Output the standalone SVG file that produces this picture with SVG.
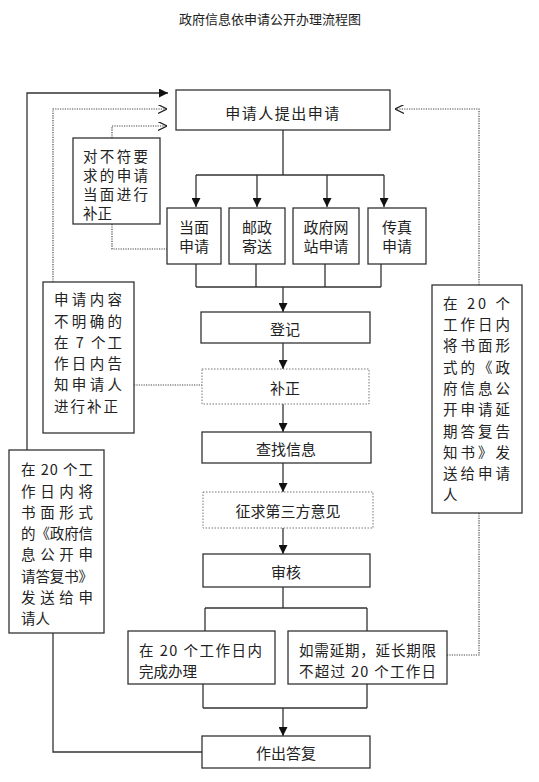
<svg xmlns="http://www.w3.org/2000/svg" width="539" height="782" viewBox="0 0 539 782">
<style>
.bx{fill:#fff;stroke:#333;stroke-width:1.3}
.dbx{fill:#fff;stroke:#777;stroke-width:1;stroke-dasharray:1.5 1.5}
.ln{fill:none;stroke:#333;stroke-width:1.3}
.dl{fill:none;stroke:#444;stroke-width:1.2;stroke-dasharray:1.2 1.2}
text{font-family:"Noto Sans CJK SC","Liberation Sans",sans-serif;fill:#222;dominant-baseline:central}
.c{text-anchor:middle;font-size:15px}
.t{font-size:14.5px}
.title{font-size:13px;text-anchor:middle}
</style>
<defs>
<marker id="ar" viewBox="0 0 10 10" refX="10" refY="5" markerWidth="9" markerHeight="9" markerUnits="userSpaceOnUse" orient="auto">
<path d="M0,0 L10,5 L0,10 z" fill="#111"/>
</marker>
<marker id="ch" viewBox="0 0 10 10" refX="10" refY="5" markerWidth="9" markerHeight="9" markerUnits="userSpaceOnUse" orient="auto">
<path d="M0,0 L10,5 L0,10" fill="none" stroke="#222" stroke-width="1.3"/>
</marker>
</defs>
<text class="title" x="270" y="18">政府信息依申请公开办理流程图</text>

<g id="connectors">
<path class="ln" d="M283,130 V175 M196,175 H384"/>
<path class="ln" d="M196,175 V207" marker-end="url(#ar)"/>
<path class="ln" d="M257,175 V207" marker-end="url(#ar)"/>
<path class="ln" d="M327,175 V207" marker-end="url(#ar)"/>
<path class="ln" d="M384,175 V207" marker-end="url(#ar)"/>
<path class="ln" d="M196,264 V287 M256,264 V287 M325,264 V287 M381,264 V287 M196,287 H381"/>
<path class="ln" d="M283,287 V312" marker-end="url(#ar)"/>
<path class="ln" d="M283,343 V369" marker-end="url(#ar)"/>
<path class="ln" d="M283,404 V432" marker-end="url(#ar)"/>
<path class="ln" d="M283,463 V492" marker-end="url(#ar)"/>
<path class="ln" d="M283,528 V554" marker-end="url(#ar)"/>
<path class="ln" d="M283,587 V608 M205,608 H367 M205,608 V631 M367,608 V631"/>
<path class="ln" d="M203,684 V708 M367,684 V708 M203,708 H367"/>
<path class="ln" d="M283,708 V736" marker-end="url(#ar)"/>
<path class="ln" d="M27,450 V93 H168" marker-end="url(#ar)"/>
<path class="ln" d="M53,633 V752 H202"/>
<path class="dl" d="M53,282 V109 H167" marker-end="url(#ch)"/>
<path class="dl" d="M112,138 V126 H167" marker-end="url(#ch)"/>
<path class="dl" d="M112,224 V249 H167"/>
<path class="dl" d="M134,385 H202"/>
<path class="dl" d="M479,285 V109 H395" marker-end="url(#ch)"/>
<path class="dl" d="M479,513 V655 H447"/>
</g>

<g id="n-apply">
<rect class="bx" x="176" y="90" width="214" height="40"/>
<text class="c" x="283" y="112" letter-spacing="1.5">申请人提出申请</text>
</g>
<g id="n-face-fix">
<rect class="bx" x="73" y="138" width="87" height="86"/>
<text class="t" x="83" y="155" textLength="65" lengthAdjust="spacing">对不符要</text>
<text class="t" x="83" y="174" textLength="65" lengthAdjust="spacing">求的申请</text>
<text class="t" x="83" y="193" textLength="65" lengthAdjust="spacing">当面进行</text>
<text class="t" x="83" y="212">补正</text>
</g>
<g id="n-face">
<rect class="bx" x="167" y="208" width="54" height="56"/>
<text class="c" x="194" y="226">当面</text>
<text class="c" x="194" y="245">申请</text>
</g>
<g id="n-post">
<rect class="bx" x="229" y="208" width="56" height="56"/>
<text class="c" x="257" y="226">邮政</text>
<text class="c" x="257" y="245">寄送</text>
</g>
<g id="n-web">
<rect class="bx" x="293" y="208" width="66" height="56"/>
<text class="c" x="326" y="226">政府网</text>
<text class="c" x="326" y="245">站申请</text>
</g>
<g id="n-fax">
<rect class="bx" x="368" y="208" width="58" height="56"/>
<text class="c" x="397" y="226">传真</text>
<text class="c" x="397" y="245">申请</text>
</g>
<g id="n-register">
<rect class="bx" x="201" y="312" width="169" height="31"/>
<text class="c" x="285" y="328">登记</text>
</g>
<g id="n-fix">
<rect class="dbx" x="202" y="369" width="167" height="35"/>
<text class="c" x="285" y="387">补正</text>
</g>
<g id="n-unclear">
<rect class="bx" x="43" y="282" width="91" height="151"/>
<text class="t" x="54" y="298" textLength="68" lengthAdjust="spacing">申请内容</text>
<text class="t" x="54" y="320" textLength="68" lengthAdjust="spacing">不明确的</text>
<text class="t" x="54" y="341" textLength="68" lengthAdjust="spacing">在 7 个工</text>
<text class="t" x="54" y="362" textLength="68" lengthAdjust="spacing">作日内告</text>
<text class="t" x="54" y="383" textLength="68" lengthAdjust="spacing">知申请人</text>
<text class="t" x="54" y="405" textLength="64" lengthAdjust="spacing">进行补正</text>
</g>
<g id="n-search">
<rect class="bx" x="202" y="432" width="169" height="31"/>
<text class="c" x="286" y="448">查找信息</text>
</g>
<g id="n-third">
<rect class="dbx" x="203" y="492" width="170" height="36"/>
<text class="c" x="288" y="510">征求第三方意见</text>
</g>
<g id="n-review">
<rect class="bx" x="203" y="554" width="167" height="33"/>
<text class="c" x="286" y="571">审核</text>
</g>
<g id="n-20days">
<rect class="bx" x="128" y="631" width="147" height="53"/>
<text class="t" x="139" y="649" textLength="123" lengthAdjust="spacing">在 20 个工作日内</text>
<text class="t" x="139" y="670">完成办理</text>
</g>
<g id="n-extend">
<rect class="bx" x="288" y="631" width="159" height="53"/>
<text class="t" x="299" y="649" textLength="137" lengthAdjust="spacing">如需延期，延长期限</text>
<text class="t" x="299" y="670" textLength="137" lengthAdjust="spacing">不超过 20 个工作日</text>
</g>
<g id="n-reply">
<rect class="bx" x="202" y="736" width="168" height="32"/>
<text class="c" x="286" y="752">作出答复</text>
</g>
<g id="n-left-notice">
<rect class="bx" x="9" y="450" width="95" height="183"/>
<text class="t" x="21" y="468" textLength="72" lengthAdjust="spacing">在 20 个工</text>
<text class="t" x="21" y="490" textLength="72" lengthAdjust="spacing">作日内将</text>
<text class="t" x="21" y="511" textLength="72" lengthAdjust="spacing">书面形式</text>
<text class="t" x="21" y="532" textLength="72" lengthAdjust="spacing">的《政府信</text>
<text class="t" x="21" y="553" textLength="72" lengthAdjust="spacing">息公开申</text>
<text class="t" x="21" y="575" textLength="72" lengthAdjust="spacing">请答复书》</text>
<text class="t" x="21" y="596" textLength="72" lengthAdjust="spacing">发送给申</text>
<text class="t" x="21" y="617">请人</text>
</g>
<g id="n-right-notice">
<rect class="bx" x="432" y="285" width="90" height="228"/>
<text class="t" x="443" y="302" textLength="67" lengthAdjust="spacing">在 20 个</text>
<text class="t" x="443" y="323" textLength="67" lengthAdjust="spacing">工作日内</text>
<text class="t" x="443" y="344" textLength="67" lengthAdjust="spacing">将书面形</text>
<text class="t" x="443" y="366" textLength="67" lengthAdjust="spacing">式的《政</text>
<text class="t" x="443" y="387" textLength="67" lengthAdjust="spacing">府信息公</text>
<text class="t" x="443" y="408" textLength="67" lengthAdjust="spacing">开申请延</text>
<text class="t" x="443" y="430" textLength="67" lengthAdjust="spacing">期答复告</text>
<text class="t" x="443" y="451" textLength="67" lengthAdjust="spacing">知书》发</text>
<text class="t" x="443" y="472" textLength="67" lengthAdjust="spacing">送给申请</text>
<text class="t" x="443" y="493">人</text>
</g>
</svg>
